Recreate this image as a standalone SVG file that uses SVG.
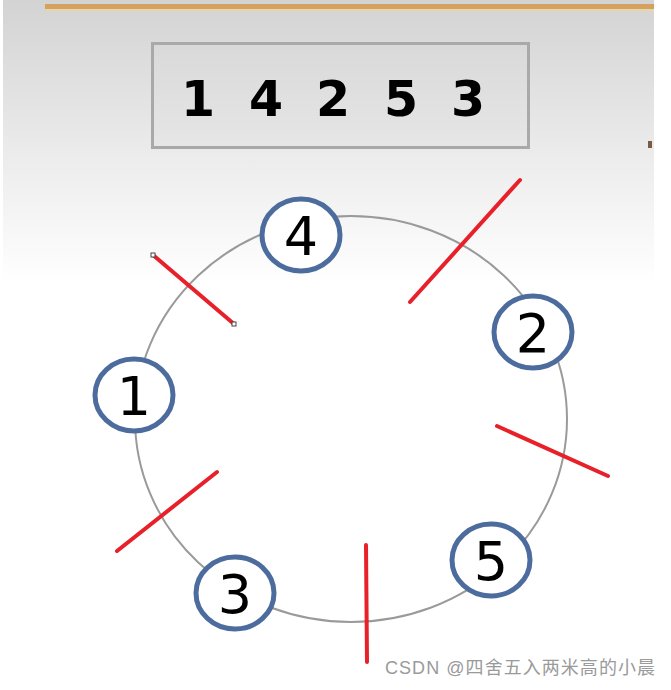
<svg xmlns="http://www.w3.org/2000/svg" width="671" height="690" viewBox="0 0 671 690">
  <defs>
    <linearGradient id="bg" x1="0" y1="0" x2="0" y2="1">
      <stop offset="0" stop-color="#d3d3d3"/>
      <stop offset="0.55" stop-color="#ececec"/>
      <stop offset="1" stop-color="#ffffff"/>
    </linearGradient>
    <linearGradient id="boxfill" x1="0" y1="0" x2="0" y2="1">
      <stop offset="0" stop-color="#d9d9d9"/>
      <stop offset="1" stop-color="#e6e6e6"/>
    </linearGradient>
    <style>
      .node ellipse { fill: #ffffff; stroke: #4d6c9e; stroke-width: 5; }
      .node text { font-family: "DejaVu Sans", "Liberation Sans", sans-serif; font-size: 54px; fill: #000; text-anchor: middle; }
      .cut { stroke: #e8202a; stroke-width: 4; stroke-linecap: round; }
      .seq { font-family: "DejaVu Sans", "Liberation Sans", sans-serif; font-weight: bold; font-size: 49px; fill: #000; text-anchor: middle; }
      .handle { fill: #ffffff; stroke: #444; stroke-width: 1; }
    </style>
  </defs>

  <rect x="0" y="0" width="671" height="690" fill="#ffffff"/>
  <rect x="3" y="0" width="651" height="285" fill="url(#bg)"/>

  <!-- top bar -->
  <rect x="45" y="4" width="609" height="5" fill="#d4a25e"/>
  <rect x="45" y="9" width="609" height="2" fill="#e6d6a8"/>
  <rect x="648" y="141" width="4" height="7" fill="#7a5a40"/>

  <!-- sequence box -->
  <g id="sequence">
    <rect x="152.5" y="43.5" width="376" height="104" fill="url(#boxfill)" stroke="#a9a9a9" stroke-width="3"/>
    <text class="seq" x="198" y="116">1</text>
    <text class="seq" x="266" y="116">4</text>
    <text class="seq" x="333" y="116">2</text>
    <text class="seq" x="401" y="116">5</text>
    <text class="seq" x="468" y="116">3</text>
  </g>

  <!-- ring -->
  <ellipse id="ring" cx="351" cy="419" rx="216" ry="203" fill="none" stroke="#9a9a9a" stroke-width="2"/>

  <g id="cuts">
    <line class="cut" x1="153" y1="255" x2="234" y2="324"/>
    <line class="cut" x1="520" y1="180" x2="410" y2="302"/>
    <line class="cut" x1="497" y1="426" x2="608" y2="476"/>
    <line class="cut" x1="366" y1="545" x2="367" y2="662"/>
    <line class="cut" x1="217" y1="472" x2="117" y2="551"/>
    <rect class="handle" x="151" y="253" width="4" height="4"/>
    <rect class="handle" x="232" y="322" width="4" height="4"/>
  </g>

  <g id="node-4" class="node">
    <ellipse cx="301" cy="235" rx="39" ry="36"/>
    <text x="301" y="255">4</text>
  </g>
  <g id="node-2" class="node">
    <ellipse cx="533" cy="332" rx="39" ry="36"/>
    <text x="533" y="352">2</text>
  </g>
  <g id="node-1" class="node">
    <ellipse cx="134" cy="395" rx="39" ry="36"/>
    <text x="134" y="415">1</text>
  </g>
  <g id="node-3" class="node">
    <ellipse cx="235" cy="593" rx="39" ry="36"/>
    <text x="235" y="613">3</text>
  </g>
  <g id="node-5" class="node">
    <ellipse cx="491" cy="560" rx="39" ry="36"/>
    <text x="491" y="580">5</text>
  </g>

  <text x="385" y="674" font-family="'Liberation Sans', 'Noto Sans CJK SC', sans-serif" font-size="18" textLength="270" fill="#9a9a9a">CSDN @四舍五入两米高的小晨</text>
</svg>
